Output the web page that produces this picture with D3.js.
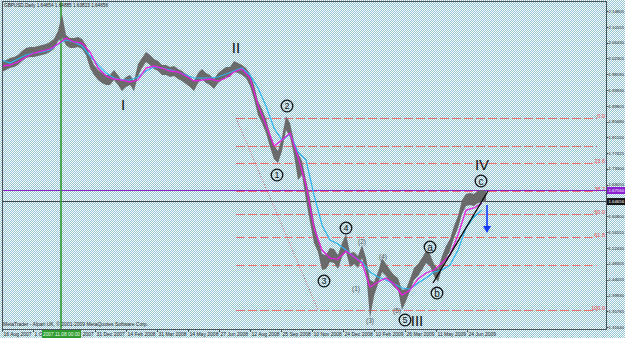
<!DOCTYPE html>
<html>
<head>
<meta charset="utf-8">
<script src="https://cdn.jsdelivr.net/npm/d3@7"></script>
<style>
body { margin:0; background:#cde2e9; }
svg { display:block; font-family:"Liberation Sans", Arial, sans-serif; }
</style>
</head>
<body>
<div id="chart"></div>
<script>
// price bars, one sample every 4 bars (high / low)
var barStep = 4;
var highs = [2.0138,2.0191,2.0243,2.0270,2.0322,2.0428,2.0507,2.0533,2.0533,2.0559,
  2.0586,2.0612,2.0665,2.0743,2.0954,2.1402,2.0849,2.0770,2.0770,2.0796,
  2.0743,2.0586,2.0296,2.0059,1.9928,1.9849,1.9796,1.9796,1.9928,1.9796,
  1.9638,1.9743,1.9796,1.9638,2.0086,2.0243,2.0401,2.0322,2.0217,2.0165,
  2.0059,2.0059,2.0007,2.0033,1.9954,1.9901,1.9822,1.9743,1.9638,1.9849,
  1.9954,1.9849,1.9796,1.9691,1.9849,1.9928,2.0007,2.0007,2.0165,2.0112,
  2.0059,1.9980,1.9822,1.9533,1.9112,1.8901,1.8638,1.8269,1.7954,1.7796,
  1.8164,1.8717,1.8533,1.8059,1.7743,1.7532,1.7032,1.6559,1.5927,1.5506,
  1.5085,1.5058,1.5243,1.5216,1.5058,1.5374,1.5611,1.5111,1.5137,1.5032,
  1.5322,1.4979,1.4400,1.4348,1.4611,1.4979,1.4822,1.4664,1.4532,1.4453,
  1.4137,1.4164,1.4427,1.4716,1.4822,1.4979,1.5164,1.5085,1.4822,1.4690,
  1.5032,1.5295,1.5480,1.5822,1.6085,1.6506,1.6664,1.6690,1.6664,1.6743,
  1.6769,1.6743];
var lows = [1.9875,1.9928,1.9980,2.0007,2.0059,2.0165,2.0243,2.0270,2.0270,2.0296,
  2.0322,2.0349,2.0401,2.0480,2.0691,2.0770,2.0586,2.0507,2.0507,2.0533,
  2.0480,2.0322,1.9980,1.9796,1.9664,1.9585,1.9533,1.9533,1.9664,1.9533,
  1.9375,1.9480,1.9533,1.9375,1.9770,1.9980,2.0138,2.0059,1.9954,1.9901,
  1.9796,1.9796,1.9743,1.9770,1.9691,1.9638,1.9559,1.9480,1.9375,1.9585,
  1.9691,1.9585,1.9533,1.9427,1.9585,1.9664,1.9743,1.9743,1.9875,1.9849,
  1.9796,1.9717,1.9506,1.9164,1.8743,1.8533,1.8269,1.7901,1.7585,1.7480,
  1.7796,1.8348,1.8164,1.7690,1.7032,1.7164,1.6506,1.5927,1.5374,1.5137,
  1.4664,1.4690,1.4874,1.4848,1.4690,1.5006,1.5137,1.4743,1.4822,1.4716,
  1.4979,1.4611,1.3400,1.3979,1.4295,1.4611,1.4506,1.4348,1.4216,1.4137,
  1.3611,1.3848,1.4111,1.4400,1.4506,1.4664,1.4848,1.4769,1.4506,1.4348,
  1.4716,1.4979,1.5164,1.5506,1.5769,1.6138,1.6348,1.6375,1.6348,1.6427,
  1.6453,1.6453];

// moving averages, one value every 8 bars
var maStep = 8;
var maFast = [2.0033,2.0059,2.0138,2.0270,2.0375,2.0428,2.0480,2.0612,2.0770,2.0665,
  2.0638,2.0401,1.9980,1.9770,1.9691,1.9664,1.9612,1.9664,1.9980,2.0033,
  1.9980,1.9901,1.9875,1.9770,1.9638,1.9664,1.9691,1.9638,1.9717,1.9875,
  1.9954,1.9717,1.9006,1.8480,1.7927,1.8085,1.8269,1.7638,1.6901,1.5769,
  1.5190,1.4979,1.4953,1.5164,1.5006,1.4848,1.4216,1.4348,1.4453,1.4295,
  1.4006,1.4137,1.4427,1.4585,1.4664,1.4848,1.5058,1.5585,1.6243,1.6296,
  1.6427];
var maSlow = [2.0191,2.0112,2.0217,2.0322,2.0375,2.0401,2.0454,2.0612,2.0717,2.0665,
  2.0559,2.0296,2.0059,1.9849,1.9717,1.9664,1.9664,1.9743,1.9901,2.0007,
  1.9980,1.9928,1.9875,1.9796,1.9717,1.9717,1.9717,1.9743,1.9822,1.9901,
  1.9980,1.9796,1.9454,1.8980,1.8401,1.8085,1.8243,1.7769,1.7559,1.6638,
  1.5848,1.5453,1.5348,1.5190,1.5006,1.4874,1.4611,1.4480,1.4400,1.4295,
  1.4190,1.4164,1.4321,1.4453,1.4611,1.4664,1.4795,1.5190,1.5769,1.6059,
  1.6243];

var dateLabels = ["16 Aug 2007","1 Oct 2007","14 Nov 2007","31 Dec 2007","14 Feb 2008",
  "31 Mar 2008","14 May 2008","27 Jun 2008","12 Aug 2008","25 Sep 2008","10 Nov 2008",
  "24 Dec 2008","10 Feb 2009","26 Mar 2009","11 May 2009","24 Jun 2009"];
var dateEvery = 31;
var priceLabels = [2.14805,2.10555,2.06430,2.02305,1.98180,1.93930,1.89805,1.85680,
  1.81550,1.77425,1.73300,1.69050,1.64925,1.60800,1.56555,1.52430,1.48305,1.44055,
  1.39930,1.35765,1.31640];

var title = "GBPUSD,Daily  1.64654 1.64885 1.63823 1.64656";
var copyright = "MetaTrader - Alpari UK, \u00a9 2001-2009 MetaQuotes Software Corp.";
var bidPrice = 1.64656;
var hLinePrice = 1.67560;
var markBar = 59, markLabel = "2007.11.08 00:00";

// fibonacci retracement
var fibHigh = 1.8664, fibLow = 1.3611, fibBarA = 234, fibBarB = 316;
var fibLevels = [0, 14.6, 23.6, 38.2, 50, 61.8, 76.4, 100];
var fibText = ["0.0", "", "23.6", "38.2", "50.0", "61.8", "", "100.0"];

// trend line b-c and arrow
var trend = [{bar:431, p:1.4321}, {bar:486, p:1.6743}];
var arrow = {bar:485, from:1.6375, to:1.5638};

// wave labels
var waveRoman = [{t:"I", bar:121, p:1.8875}, {t:"II", bar:234, p:2.0375},
  {t:"IV", bar:480, p:1.7296}, {t:"III", bar:415, p:1.3190}];
var waveCircled = [{t:"1", bar:275, p:1.7164}, {t:"2", bar:285, p:1.8980},
  {t:"3", bar:322, p:1.4374}, {t:"4", bar:344, p:1.5769}, {t:"5", bar:403, p:1.3348},
  {t:"a", bar:428, p:1.5269}, {t:"b", bar:435, p:1.4058}, {t:"c", bar:479, p:1.7006}];
var waveMinor = [{t:"(1)", bar:354, p:1.4164}, {t:"(2)", bar:360, p:1.5401},
  {t:"(3)", bar:368, p:1.3321}, {t:"(4)", bar:381, p:1.5006}, {t:"(5)", bar:395, p:1.3585}];

var W = 625, H = 338;
var pLeft = 2, pRight = 606, pTop = 1, pBottom = 329;

var svg = d3.select("#chart").append("svg").attr("width", W).attr("height", H);
var defs = svg.append("defs");
var pat = defs.append("pattern").attr("id", "dither")
  .attr("width", 2).attr("height", 2).attr("patternUnits", "userSpaceOnUse");
pat.append("rect").attr("width", 2).attr("height", 2).attr("fill", "#94c4d6");
pat.append("rect").attr("x", 0).attr("y", 0).attr("width", 1).attr("height", 1).attr("fill", "#ffffff");
pat.append("rect").attr("x", 1).attr("y", 1).attr("width", 1).attr("height", 1).attr("fill", "#f4fbfd");
defs.append("clipPath").attr("id", "plot").append("rect")
  .attr("x", pLeft).attr("y", pTop).attr("width", pRight - pLeft).attr("height", pBottom - pTop);

svg.append("rect").attr("width", W).attr("height", H).attr("fill", "url(#dither)");

var x = d3.scaleLinear().domain([0, 604]).range([pLeft, pRight]);
var y = d3.scaleLinear().domain([1.31640, 2.14805]).range([327, 11]);

var plot = svg.append("g").attr("clip-path", "url(#plot)");

// fibo levels
var fibY = function(l) { return y(fibHigh - (fibHigh - fibLow) * l / 100); };
plot.selectAll(".fib").data(fibLevels).enter().append("line")
  .attr("x1", x(fibBarA)).attr("x2", 597)
  .attr("y1", function(d) { return Math.round(fibY(d)) + 0.5; })
  .attr("y2", function(d) { return Math.round(fibY(d)) + 0.5; })
  .attr("stroke", "#f07070").attr("stroke-width", 1).attr("stroke-dasharray", "9,3");
plot.selectAll(".fibtxt").data(fibLevels).enter().append("text")
  .attr("x", 605).attr("y", function(d) { return Math.round(fibY(d)); })
  .attr("text-anchor", "end").attr("font-size", 5.5).attr("fill", "#f04848")
  .text(function(d, i) { return fibText[i]; });
plot.append("line")
  .attr("x1", x(fibBarA)).attr("y1", y(fibHigh)).attr("x2", x(fibBarB)).attr("y2", y(fibLow))
  .attr("stroke", "#e05050").attr("stroke-width", 1).attr("stroke-dasharray", "1,2");

// horizontal lines
plot.append("line").attr("x1", pLeft).attr("x2", pRight)
  .attr("y1", y(hLinePrice)).attr("y2", y(hLinePrice))
  .attr("stroke", "#8a1fd0").attr("stroke-width", 1.2);
plot.append("line").attr("x1", pLeft).attr("x2", pRight)
  .attr("y1", y(bidPrice)).attr("y2", y(bidPrice))
  .attr("stroke", "#404040").attr("stroke-width", 1);

// vertical marker line
plot.append("line").attr("x1", x(markBar)).attr("x2", x(markBar))
  .attr("y1", pTop).attr("y2", pBottom)
  .attr("stroke", "#2f9a2f").attr("stroke-width", 1.6);

// price bars
var area = d3.area()
  .x(function(d, i) { return x(i * barStep); })
  .y0(function(d, i) { return y(lows[i]); })
  .y1(function(d, i) { return y(highs[i]); });
plot.append("path").datum(highs).attr("d", area)
  .attr("fill", "#6a6a6a");

// moving averages
var maLine = d3.line().x(function(d, i) { return x(i * maStep); }).y(function(d) { return y(d); });
plot.append("path").datum(maSlow).attr("d", maLine)
  .attr("fill", "none").attr("stroke", "#2ab4f0").attr("stroke-width", 1.2);
plot.append("path").datum(maFast).attr("d", maLine)
  .attr("fill", "none").attr("stroke", "#e81ee0").attr("stroke-width", 1.3);

// trend line
plot.append("line")
  .attr("x1", x(trend[0].bar)).attr("y1", y(trend[0].p))
  .attr("x2", x(trend[1].bar)).attr("y2", y(trend[1].p))
  .attr("stroke", "#000").attr("stroke-width", 1.3);

// arrow
var ax = x(arrow.bar), ay1 = y(arrow.from), ay2 = y(arrow.to);
plot.append("line").attr("x1", ax).attr("x2", ax).attr("y1", ay1).attr("y2", ay2 - 5)
  .attr("stroke", "#1238ff").attr("stroke-width", 1.6);
plot.append("path")
  .attr("d", "M" + (ax - 4) + "," + (ay2 - 7) + "L" + (ax + 4) + "," + (ay2 - 7) + "L" + ax + "," + ay2 + "Z")
  .attr("fill", "#1238ff");

// wave labels
plot.selectAll(".roman").data(waveRoman).enter().append("text")
  .attr("x", function(d) { return x(d.bar); }).attr("y", function(d) { return y(d.p); })
  .attr("text-anchor", "middle").attr("font-size", 15).attr("fill", "#111")
  .text(function(d) { return d.t; });
var circ = plot.selectAll(".circ").data(waveCircled).enter().append("g")
  .attr("transform", function(d) { return "translate(" + x(d.bar) + "," + y(d.p) + ")"; });
circ.append("circle").attr("r", 5.8).attr("fill", "none").attr("stroke", "#111").attr("stroke-width", 1.3);
circ.append("text").attr("text-anchor", "middle").attr("dy", "0.35em")
  .attr("font-size", function(d) { return isNaN(+d.t) ? 10 : 9; }).attr("fill", "#111")
  .text(function(d) { return d.t; });
plot.selectAll(".minor").data(waveMinor).enter().append("text")
  .attr("x", function(d) { return x(d.bar); }).attr("y", function(d) { return y(d.p); })
  .attr("dy", "0.35em").attr("text-anchor", "middle").attr("font-size", 6.5).attr("fill", "#555")
  .text(function(d) { return d.t; });

// texts inside plot
svg.append("text").attr("x", 4).attr("y", 7).attr("font-size", 5.5).attr("fill", "#111")
  .attr("textLength", 104).attr("lengthAdjust", "spacingAndGlyphs").text(title);
svg.append("text").attr("x", 3).attr("y", 326).attr("font-size", 5.5).attr("fill", "#222")
  .attr("textLength", 145).attr("lengthAdjust", "spacingAndGlyphs").text(copyright);

// frame
svg.append("rect").attr("x", pLeft + 0.5).attr("y", pTop + 0.5)
  .attr("width", pRight - pLeft).attr("height", pBottom - pTop)
  .attr("fill", "none").attr("stroke", "#4a5258").attr("stroke-width", 1);

// price axis
var pax = svg.append("g");
pax.selectAll("line").data(priceLabels).enter().append("line")
  .attr("x1", pRight).attr("x2", pRight + 2.5)
  .attr("y1", function(d) { return Math.round(y(d)) + 0.5; })
  .attr("y2", function(d) { return Math.round(y(d)) + 0.5; })
  .attr("stroke", "#4a5258");
pax.selectAll("text").data(priceLabels).enter().append("text")
  .attr("x", pRight + 2.5).attr("y", function(d) { return y(d) + 1.6; })
  .attr("font-size", 4.3).attr("fill", "#222")
  .text(function(d) { return d.toFixed(5); });

function priceTag(p, bg) {
  var yy = y(p);
  svg.append("rect").attr("x", pRight + 1).attr("y", yy - 3.5).attr("width", W - pRight - 1).attr("height", 7)
    .attr("fill", bg);
  svg.append("text").attr("x", pRight + 2.5).attr("y", yy + 1.6).attr("font-size", 4.3).attr("fill", "#fff")
    .text(p.toFixed(5));
}
priceTag(hLinePrice, "#8a1fd0");
priceTag(bidPrice, "#141414");

// time axis
var ticks = dateLabels.map(function(d, i) { return i * dateEvery; });
svg.selectAll(".dtick").data(ticks).enter().append("line")
  .attr("x1", function(d) { return Math.round(x(d)) + 0.5; })
  .attr("x2", function(d) { return Math.round(x(d)) + 0.5; })
  .attr("y1", pBottom).attr("y2", pBottom + 3).attr("stroke", "#4a5258");
svg.selectAll(".dlab").data(dateLabels).enter().append("text")
  .attr("x", function(d, i) { return x(ticks[i]) + 1.5; }).attr("y", 336)
  .attr("font-size", 5).attr("fill", "#222")
  .text(function(d) { return d; });

// marker label on time axis
var mx = x(markBar);
svg.append("rect").attr("x", mx - 19).attr("y", pBottom + 1).attr("width", 39).attr("height", 8)
  .attr("fill", "#2f9a2f");
svg.append("text").attr("x", mx - 18).attr("y", 336).attr("font-size", 5).attr("fill", "#e8ffe8")
  .attr("textLength", 37).attr("lengthAdjust", "spacingAndGlyphs").text(markLabel);
</script>
</body>
</html>
